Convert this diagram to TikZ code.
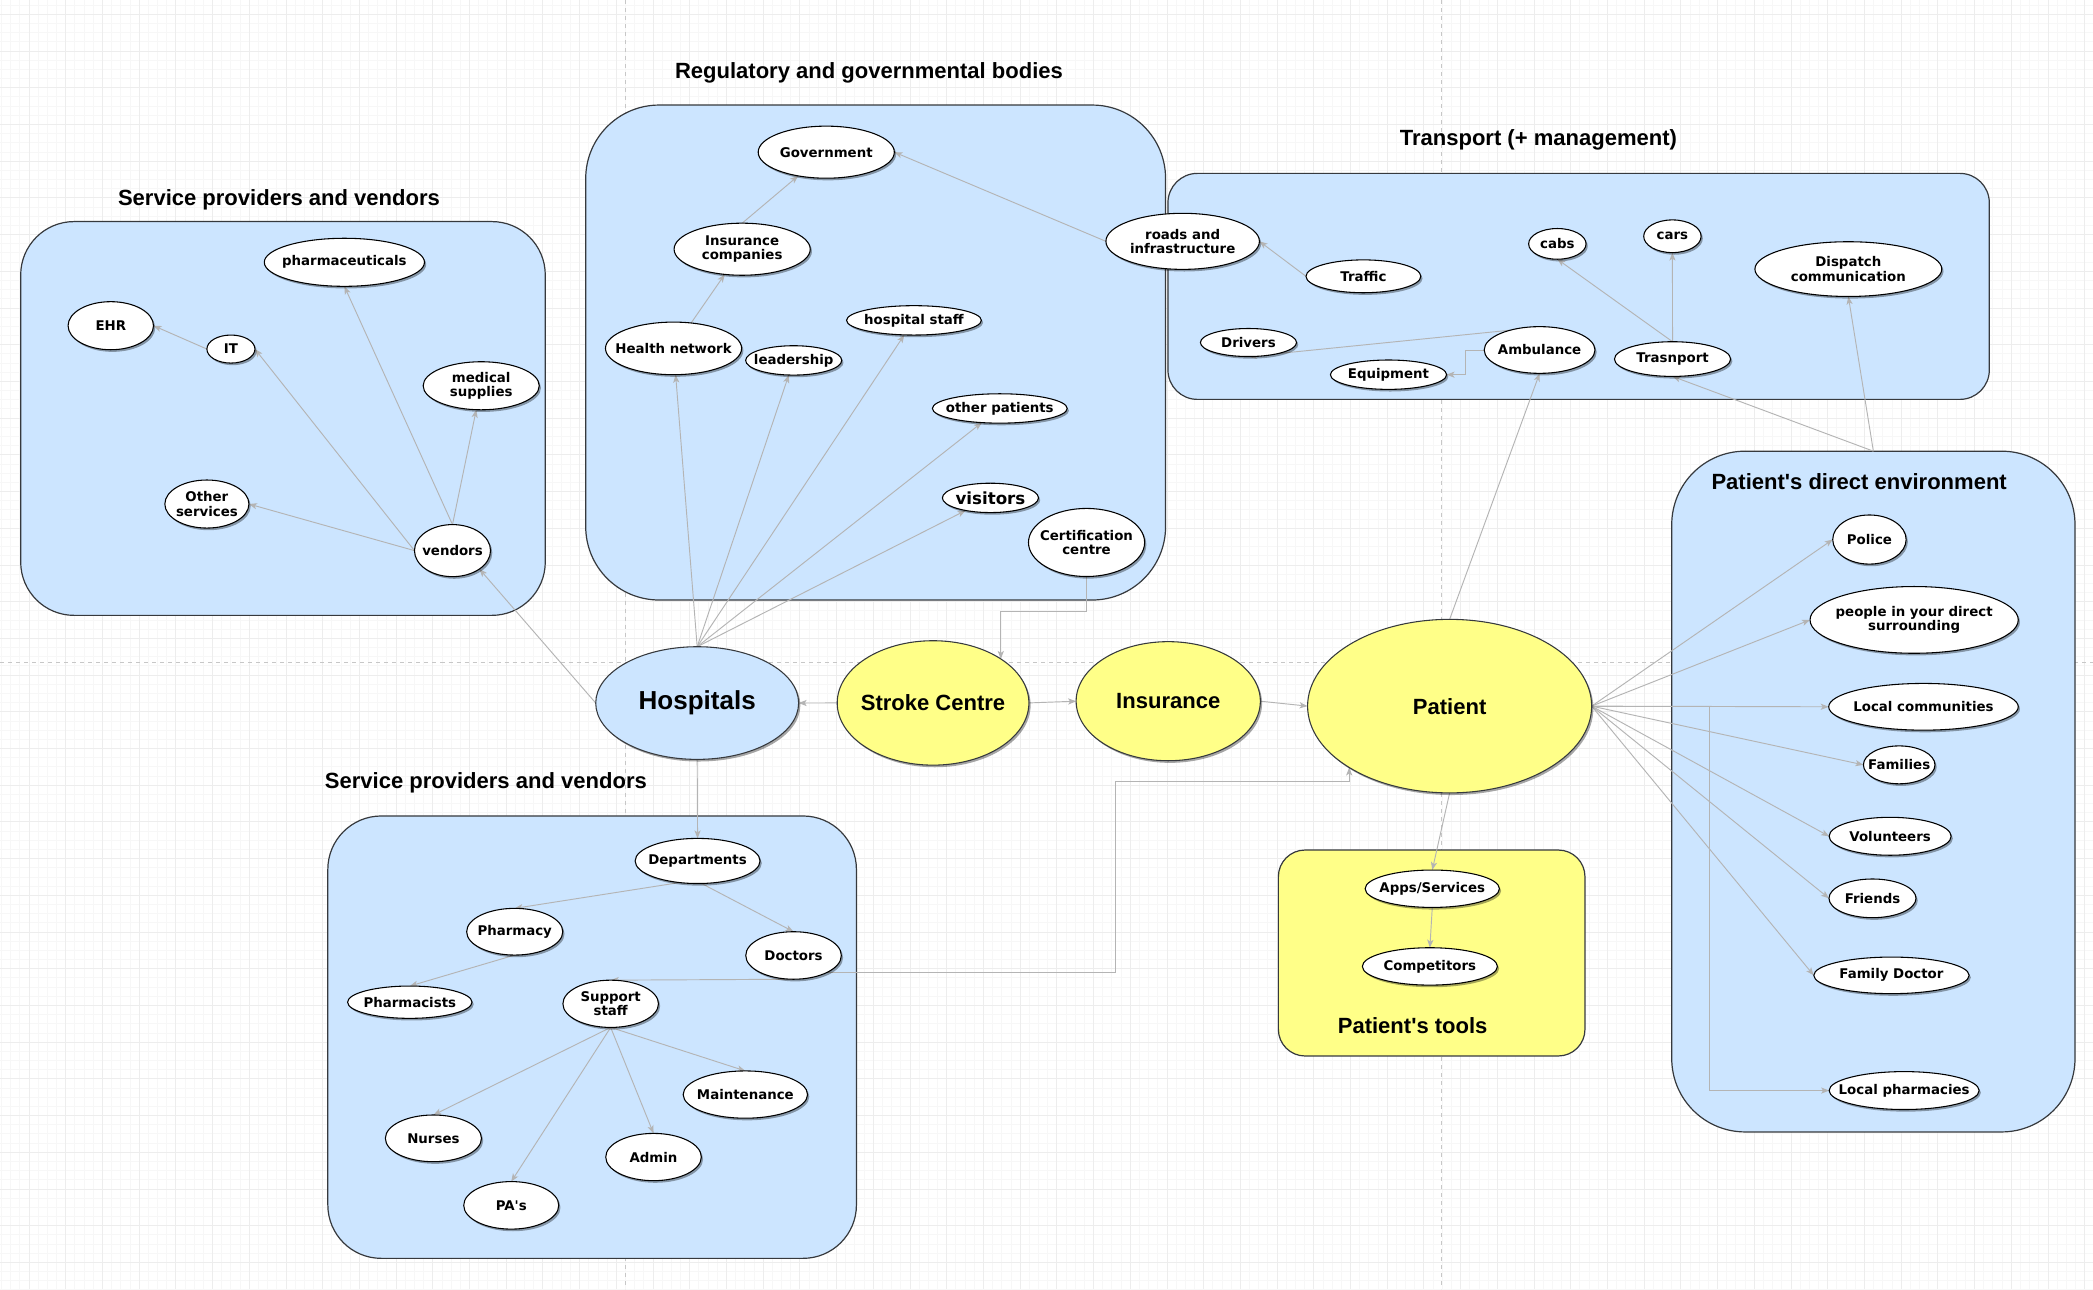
\documentclass[tikz,border=0pt]{standalone}
\usepackage{fontspec}
\newfontfamily\lab{DejaVu Sans}
\newfontfamily\ttl{Liberation Sans}
\usetikzlibrary{shapes.geometric,shadows,arrows.meta,calc}
\pgfdeclarelayer{gridl}
\pgfdeclarelayer{boxes}
\pgfdeclarelayer{edges}
\pgfsetlayers{gridl,boxes,edges,main}
\definecolor{grpblue}{HTML}{CCE5FF}
\definecolor{grpyel}{HTML}{FFFF88}
\definecolor{grpline}{HTML}{36393D}
\definecolor{edgec}{HTML}{B4B4B4}
\tikzset{
 ell/.style={ellipse, draw=black, line width=0.8pt, fill=white, inner sep=0pt, outer sep=0pt,
   drop shadow={shadow xshift=1.3pt, shadow yshift=-1.6pt, fill=black, opacity=0.35}},
 lbl/.style={font=\lab\bfseries\fontsize{10}{10.8}\selectfont, align=center, inner sep=0pt},
 big/.style={font=\ttl\bfseries\fontsize{16.5}{18}\selectfont, align=center, inner sep=0pt},
 ttlstyle/.style={font=\ttl\bfseries\fontsize{16.5}{18}\selectfont, inner sep=0pt, anchor=base},
 grp/.style={rectangle, draw=grpline, line width=0.9pt, fill=grpblue, inner sep=0pt, outer sep=0pt},
 conn/.style={draw=edgec, line width=0.7pt, -{Stealth[length=6pt,width=4.6pt,inset=1.5pt]}},
 gminor/.style={draw=black!3, line width=0.4pt},
 gmajor/.style={draw=black!7, line width=0.4pt},
 pageline/.style={draw=black!22, line width=0.6pt, dash pattern=on 3pt off 3pt},
}
\newcommand{\enode}[6][]{\node[ell,#1,minimum width=#5pt,minimum height=#6pt,label={[lbl]center:{#4}}] (#2) at (#3) {};}
\begin{document}
\begin{tikzpicture}[x=1pt,y=-1pt]
\useasboundingbox (0,0) rectangle (1568,966);
% ---------- background grid ----------
\begin{pgfonlayer}{gridl}
\fill[white] (0,0) rectangle (1568,966);
\foreach \k in {0,...,228} {\draw[gminor] ({0.975+\k*6.875},0) -- ({0.975+\k*6.875},966);}
\foreach \k in {0,...,140} {\draw[gminor] (0,{3.725+\k*6.875}) -- (1568,{3.725+\k*6.875});}
\foreach \k in {0,...,56} {\draw[gmajor] ({21.6+\k*27.5},0) -- ({21.6+\k*27.5},966);}
\foreach \k in {0,...,34} {\draw[gmajor] (0,{10.6+\k*27.5}) -- (1568,{10.6+\k*27.5});}
\draw[pageline] (468.2,0) -- (468.2,966);
\draw[pageline] (1080,0) -- (1080,966);
\draw[pageline] (0,496) -- (1568,496);
\end{pgfonlayer}
% ---------- group boxes ----------
\begin{pgfonlayer}{boxes}
\node[grp, minimum width=393pt, minimum height=295pt, rounded corners=40pt] (g1) at (212,313.5) {};
\node[grp, minimum width=434.4pt, minimum height=370.8pt, rounded corners=55pt] (g2) at (656,264.1) {};
\node[grp, minimum width=615.3pt, minimum height=169.3pt, rounded corners=22pt] (g3) at (1182.65,214.55) {};
\node[grp, minimum width=396pt, minimum height=331.4pt, rounded corners=40pt] (g4) at (443.6,777) {};
\node[grp, fill=grpyel, minimum width=229.7pt, minimum height=154.3pt, rounded corners=20pt] (g5) at (1072.55,713.95) {};
\node[grp, minimum width=302.1pt, minimum height=510pt, rounded corners=55pt] (envbox) at (1403.45,593) {};
\end{pgfonlayer}
% ---------- titles ----------
\node[ttlstyle] (t1) at (209,154) {Service providers and vendors};
\node[ttlstyle] (t2) at (651,59) {Regulatory and governmental bodies};
\node[ttlstyle] (t3) at (1152.5,109) {Transport (+ management)};
\node[ttlstyle] (t4) at (364,591) {Service providers and vendors};
\node[ttlstyle] (t5) at (1058.3,774.6) {Patient\textquotesingle s tools};
\node[ttlstyle] (t6) at (1392.8,367) {Patient\textquotesingle s direct environment};
% ---------- group 1 ----------
\enode{pharma}{258,196.5}{pharmaceuticals}{120}{36}
\enode{ehr}{83,244}{EHR}{64}{36}
\enode{it}{173,261.5}{IT}{36}{21}
\enode{medsup}{360.5,289}{medical\\supplies}{87}{36}
\enode{othersvc}{155,377.6}{Other\\services}{63}{36}
\enode{vendors}{339,412.5}{vendors}{57}{39}
% ---------- group 2 ----------
\enode{gov}{619,114}{Government}{102}{39}
\enode{insco}{556,186.7}{Insurance\\companies}{102}{39}
\enode{healthnet}{504.6,261}{Health network}{102}{39.4}
\enode{leadership}{594.6,270}{leadership}{72}{22}
\enode{hstaff}{684.7,240}{hospital staff}{101}{22}
\enode{otherpat}{749,306}{other patients}{101}{22}
\node[ell, minimum width=72pt, minimum height=22pt, label={[lbl, font=\lab\bfseries\fontsize{12.5}{14}\selectfont]center:visitors}] (visitors) at (742,373) {};
\enode{cert}{814,406.4}{Certification\\centre}{87}{51}
\enode{roads}{886,180.8}{roads and\\infrastructure}{115}{42}
% ---------- group 3 ----------
\enode{traffic}{1021.4,207}{Traffic}{86}{24.6}
\enode{cabs}{1166.7,182.7}{cabs}{43}{23}
\enode{cars}{1252.9,177}{cars}{43}{24.5}
\enode{dispatch}{1384.7,201.6}{Dispatch\\communication}{140}{41}
\enode{drivers}{935.3,256.6}{Drivers}{72}{21}
\enode{amb}{1153.4,262.2}{Ambulance}{83}{35}
\enode{equip}{1040.2,280.7}{Equipment}{87}{22}
\enode{trasn}{1253,269}{Trasnport}{87}{26}
% ---------- centre row ----------
\node[ell, fill=grpblue, draw=grpline, minimum width=152pt, minimum height=84.4pt,
  label={[big, font=\ttl\bfseries\fontsize{19.5}{21}\selectfont]center:Hospitals}] (hosp) at (522.3,526.7) {};
\node[ell, fill=grpyel, draw=grpline, minimum width=143.6pt, minimum height=93.2pt,
  label={[big]center:Stroke Centre}] (stroke) at (699,526.6) {};
\node[ell, fill=grpyel, draw=grpline, minimum width=138pt, minimum height=89.2pt,
  label={[big]center:Insurance}] (ins) at (875.2,525.3) {};
\node[ell, fill=grpyel, draw=grpline, minimum width=212.8pt, minimum height=130pt,
  label={[big]center:Patient}] (patient) at (1086,529) {};
% ---------- group 4 ----------
\enode{depts}{522.6,645}{Departments}{93.6}{33.8}
\enode{pharmacy}{385.6,698}{Pharmacy}{72}{35}
\enode{doctors}{594.5,715.8}{Doctors}{71.6}{35.6}
\enode{pharmacists}{307,750.8}{Pharmacists}{93.2}{24.2}
\enode{support}{457.5,752}{Support\\staff}{71.6}{35.4}
\enode{maint}{558.4,820}{Maintenance}{93.2}{35.4}
\enode{nurses}{324.7,852.8}{Nurses}{72}{35}
\enode{admin}{489.6,866.8}{Admin}{71.6}{35.4}
\enode{pas}{383,903}{PA\textquotesingle s}{71.2}{35.6}
% ---------- group 5 ----------
\enode{apps}{1073,665.8}{Apps/Services}{100.6}{28}
\enode{comp}{1071.2,724}{Competitors}{101.2}{28}
% ---------- group 6 ----------
\enode{police}{1400.5,404.2}{Police}{55}{36.8}
\enode{people}{1434,464.4}{people in your direct\\surrounding}{156}{50}
\enode{lcomm}{1441,529.5}{Local communities}{142}{35}
\enode{families}{1422.8,573}{Families}{53.6}{28.4}
\enode{volunteers}{1416,626.5}{Volunteers}{91.4}{28.4}
\enode{friends}{1402.8,673}{Friends}{65.2}{29}
\enode{famdoc}{1417,730.7}{Family Doctor}{116.4}{27.4}
\enode{lpharm}{1426.5,817}{Local pharmacies}{112.4}{28.4}
\coordinate (dp1) at (836,585.5);
% ---------- connectors ----------
\begin{pgfonlayer}{edges}
% group 1
\draw[conn] (it.west) -- (ehr.east);
\draw[conn] (vendors.west) -- (it.east);
\draw[conn] (vendors.north) -- (pharma.south);
\draw[conn] (vendors.north) -- (medsup);
\draw[conn] (vendors.west) -- (othersvc.east);
\draw[conn] (hosp.west) -- (vendors.south east);
% group 2
\draw[conn] (insco.north) -- (gov);
\draw[conn] (healthnet) -- (insco);
\draw[conn] (roads.west) -- (gov.east);
\draw[conn] (hosp.north) -- (healthnet);
\draw[conn] (hosp.north) -- (leadership);
\draw[conn] (hosp.north) -- (hstaff);
\draw[conn] (hosp.north) -- (otherpat);
\draw[conn] (hosp.north) -- (visitors);
\draw[conn] (cert.south) -- ++(0,26) -| (stroke.north east);
% group 3
\draw[conn] (traffic.west) -- (roads.east);
\draw[conn] (amb.146) -- (drivers.south);
\draw[conn] (amb.west) -- ++(-14,0) |- (equip.east);
\draw[conn] (trasn.north) -- (cabs.south);
\draw[conn] (trasn.north) -- (cars.south);
\draw[conn] (envbox.north) -- (trasn.south);
\draw[conn] (envbox.north) -- (dispatch.south);
\draw[conn] (patient.north) -- (amb.south);
% centre row
\draw[conn] (stroke.west) -- (hosp.east);
\draw[conn] (stroke.east) -- (ins.west);
\draw[conn] (ins.east) -- (patient.west);
\draw[conn] (hosp.south) -- (depts.north);
% group 4
\draw[conn] (depts.230) -- (pharmacy.north);
\draw[conn] (depts.280) -- (doctors.north);
\draw[conn] (pharmacy.south) -- (pharmacists.north);
\draw[conn] (support.south) -- (nurses.north);
\draw[conn] (support.south) -- (pas.north);
\draw[conn] (support.south) -- (admin.north);
\draw[conn] (support.south) -- (maint.north);
\draw[conn] (doctors.south) -- (support.north);
\draw[conn] (doctors.south east) -| (dp1) -| (patient.south west);
% group 5
\draw[conn] (patient.south) -- (apps.north);
\draw[conn] (apps.south) -- (comp.north);
% group 6
\draw[conn] (patient.east) -- (police.west);
\draw[conn] (patient.east) -- (people.west);
\draw[conn] (patient.east) -- (lcomm.west);
\draw[conn] (patient.east) -- (families.west);
\draw[conn] (patient.east) -- (volunteers.west);
\draw[conn] (patient.east) -- (friends.west);
\draw[conn] (patient.east) -- (famdoc.west);
\draw[conn] (patient.east) -- ++(88,0) |- (lpharm.west);
\end{pgfonlayer}
\end{tikzpicture}
\end{document}
